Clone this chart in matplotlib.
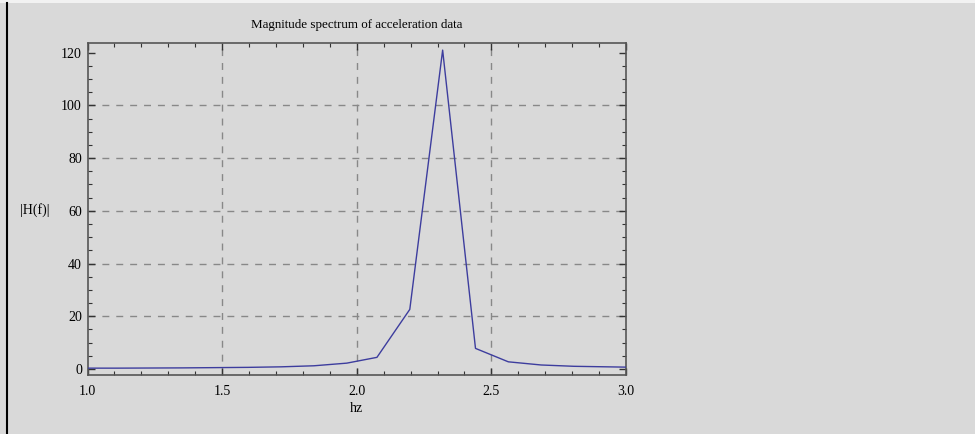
import numpy as np
import matplotlib
matplotlib.use("Agg")
import matplotlib.pyplot as plt
from matplotlib.ticker import MultipleLocator
from matplotlib.lines import Line2D
from matplotlib.patches import Rectangle

# spectrum samples (frequency in hz, magnitude)
freq = [0.987, 1.109, 1.231, 1.353, 1.475, 1.597, 1.719, 1.841, 1.963,
        2.075, 2.197, 2.319, 2.441, 2.563, 2.685, 2.807, 2.929, 3.051]
mag = [0.3, 0.3, 0.35, 0.4, 0.5, 0.6, 0.8, 1.2, 2.2,
       4.4, 22.6, 121.0, 7.8, 2.7, 1.5, 1.0, 0.8, 0.6]

xticks = [1.0, 1.5, 2.0, 2.5, 3.0]
yticks = [0, 20, 40, 60, 80, 100, 120]

bg = "#d9d9d9"
plt.rcParams["font.family"] = ["Liberation Serif", "DejaVu Serif"]

fig = plt.figure(figsize=(9.75, 4.34), dpi=100, facecolor=bg)
W, H = 975, 434
ax = fig.add_axes([87.5 / W, 1 - 375 / H, (626 - 87.5) / W, (375 - 43) / H])
ax.set_facecolor(bg)

ax.plot(freq, mag, color=(0.24, 0.24, 0.62), lw=1.0, zorder=3)

ax.set_xlim(1.0, 3.0)
ax.set_ylim(-2.3, 123.7)

ax.set_xticks(xticks)
ax.set_xticklabels([f"{t:.1f}" for t in xticks])
ax.set_yticks(yticks)
ax.set_yticklabels([str(t) for t in yticks])
ax.xaxis.set_minor_locator(MultipleLocator(0.1))
ax.yaxis.set_minor_locator(MultipleLocator(5))
ax.tick_params(which="both", direction="in", top=True, right=True,
               colors="#333333", labelcolor="black", labelsize=10)
ax.tick_params(which="major", length=5, width=1.0)
ax.tick_params(axis="x", which="major", pad=7)
ax.tick_params(axis="y", which="major", pad=4)
ax.tick_params(which="minor", length=3, width=0.8)
for s in ax.spines.values():
    s.set_color("#555555")
    s.set_linewidth(1.2)

# dashed grid on the interior ticks only
for gx in [1.5, 2.0, 2.5]:
    ax.axvline(gx, color="#888888", ls=(0, (5, 5)), lw=1.0, zorder=1)
for gy in [20, 40, 60, 80, 100]:
    ax.axhline(gy, color="#888888", ls=(0, (5, 5)), lw=1.0, zorder=1)

ax.set_title("Magnitude spectrum of acceleration data", fontsize=9.4, pad=11)
ax.set_xlabel("hz", fontsize=10)
ax.xaxis.set_label_coords(0.5, -0.082)
ax.set_ylabel("|H(f)|", fontsize=10, rotation=0)
ax.yaxis.set_label_coords(-0.0975, 0.475)

# frame bits around the panel
fig.patches.append(Rectangle((0, 1 - 2.5 / H), 1, 2.5 / H, transform=fig.transFigure,
                             facecolor="#f2f2f2", edgecolor="none"))
fig.lines.append(Line2D([6.7 / W, 6.7 / W], [0, 1 - 2.5 / H], transform=fig.transFigure,
                        color="black", lw=1.5))

fig.savefig("out.png", dpi=100, facecolor=bg)
